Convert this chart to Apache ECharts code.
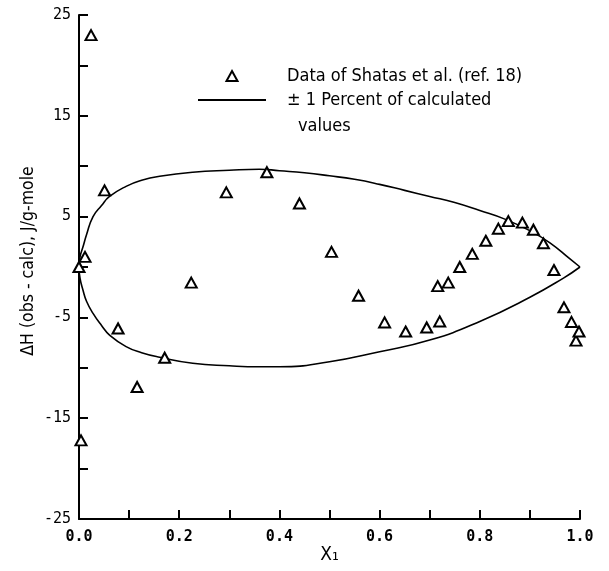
<!DOCTYPE html>
<html>
<head>
<meta charset="utf-8">
<script src="https://cdn.jsdelivr.net/npm/echarts@6/dist/echarts.min.js"></script>
<style>
html,body{margin:0;padding:0;background:#fff;}
#c{width:609px;height:571px;}
</style>
</head>
<body>
<div id="c"></div>
<script>
// Observed data (Shatas et al., ref. 18): mole fraction x1 and ΔH(obs - calc), J/g-mole
const obsX = [0.0, 0.004, 0.012, 0.024, 0.051, 0.078, 0.116, 0.171, 0.224, 0.294, 0.375, 0.44, 0.504, 0.558, 0.610, 0.652, 0.694, 0.716, 0.720, 0.737, 0.760, 0.785, 0.812, 0.837, 0.857, 0.885, 0.907, 0.927, 0.948, 0.968, 0.983, 0.992, 0.998, 1.003];
const obsY = [0, -17.2, 1.0, 23.0, 7.6, -6.1, -11.9, -9.0, -1.55, 7.4, 9.4, 6.3, 1.5, -2.85, -5.5, -6.4, -6.0, -1.9, -5.4, -1.55, 0.0, 1.3, 2.6, 3.8, 4.55, 4.4, 3.7, 2.35, -0.3, -4.0, -5.45, -7.3, -6.4, -3.7];

// +1 percent of calculated values (upper envelope)
const upperX = [0, 0.002, 0.008, 0.015, 0.028, 0.045, 0.061, 0.094, 0.125, 0.161, 0.227, 0.30, 0.36, 0.40, 0.45, 0.50, 0.55, 0.60, 0.65, 0.70, 0.75, 0.80, 0.85, 0.90, 0.94, 0.98, 1.0];
const upperY = [0, 1.0, 2.0, 3.2, 5.0, 6.1, 7.0, 8.0, 8.6, 9.0, 9.4, 9.6, 9.7, 9.55, 9.35, 9.05, 8.7, 8.2, 7.6, 7.0, 6.4, 5.6, 4.75, 3.6, 2.4, 0.8, 0];

// -1 percent of calculated values (lower envelope)
const lowerX = [0, 0.002, 0.008, 0.015, 0.028, 0.045, 0.061, 0.094, 0.125, 0.161, 0.227, 0.30, 0.36, 0.40, 0.50, 0.60, 0.70, 0.80, 0.90, 0.967, 1.0];
const lowerY = [0, -1.1, -2.3, -3.4, -4.6, -5.8, -6.75, -7.9, -8.5, -8.95, -9.55, -9.8, -9.9, -9.9, -9.4, -8.4, -7.25, -5.4, -3.0, -1.1, 0];

// Tick labels
const xTickLabels = ['0.0', '', '0.2', '', '0.4', '', '0.6', '', '0.8', '', '1.0'];
const yTickLabels = ['-25', '-15', '-5', '5', '15', '25'];

const scatterName = 'Data of Shatas et al. (ref. 18)';
const lineName = '± 1 Percent of calculated values';
const lineFirst = '± 1 Percent of calculated';
const lineSecond = 'values';

const textFont = "'Liberation Sans Narrow', 'DejaVu Sans Condensed', 'Liberation Sans', sans-serif";
const tickFont = "'DejaVu Sans Mono', 'Liberation Mono', monospace";

// legend triangle icon: small triangle centred in a 68 x 10 box
const legendTriangle = 'path://M0,0M68,10M34,0L39.5,10L28.5,10Z';

const zip = (xs, ys) => xs.map((x, i) => [x, ys[i]]);

const chart = echarts.init(document.getElementById('c'), null, {renderer: 'canvas'});
chart.setOption({
  backgroundColor: '#fff',
  animation: false,
  grid: {left: 79, right: 29, top: 15, bottom: 52, containLabel: false, outerBoundsMode: 'none'},
  legend: {
    orient: 'vertical',
    left: 197,
    top: 67,
    padding: 0,
    itemWidth: 68,
    itemHeight: 10,
    itemGap: 6,
    selectedMode: false,
    symbolKeepAspect: true,
    data: [
      {name: scatterName, icon: legendTriangle},
      {name: lineName, itemStyle: {opacity: 0}}
    ],
    formatter: n => n === lineName ? lineFirst : n,
    textStyle: {fontFamily: textFont, fontSize: 18, color: '#000', lineHeight: 18, padding: [0, 0, 0, 16]}
  },
  graphic: [{
    type: 'text', left: 298, top: 117,
    style: {text: lineSecond, font: "18px " + textFont, fill: '#000'}
  }],
  xAxis: {
    type: 'value', min: 0, max: 1, interval: 0.1,
    name: 'X₁', nameLocation: 'middle', nameGap: 27, nameMoveOverlap: false,
    nameTextStyle: {fontFamily: textFont, fontSize: 19, color: '#000'},
    axisLine: {show: true, onZero: false, lineStyle: {color: '#000', width: 2}},
    axisTick: {show: true, inside: true, length: 9, lineStyle: {color: '#000', width: 2}},
    splitLine: {show: false},
    axisLabel: {
      margin: 11, color: '#000', fontFamily: tickFont, fontWeight: 'bold', fontSize: 15,
      formatter: v => xTickLabels[Math.round(v * 10)] || ''
    }
  },
  yAxis: {
    type: 'value', min: -25, max: 25, interval: 5,
    name: 'ΔH (obs - calc), J/g-mole', nameLocation: 'middle', nameGap: 42, nameRotate: 90,
    nameMoveOverlap: false,
    nameTextStyle: {fontFamily: textFont, fontSize: 17.5, color: '#000', padding: [0, 0, 0, 12]},
    axisLine: {show: true, onZero: false, lineStyle: {color: '#000', width: 2}},
    axisTick: {show: true, inside: true, length: 9, lineStyle: {color: '#000', width: 2}},
    splitLine: {show: false},
    axisLabel: {
      margin: 8, color: '#000', fontFamily: tickFont, fontSize: 15,
      formatter: v => { const s = String(Math.round(v)); return yTickLabels.includes(s) ? s : ''; }
    }
  },
  series: [
    {
      name: lineName, type: 'line', data: zip(upperX, upperY),
      symbol: 'none', showSymbol: false, smooth: 0.5,
      itemStyle: {color: '#000'},
      lineStyle: {color: '#000', width: 1.6}, z: 2
    },
    {
      name: lineName, type: 'line', data: zip(lowerX, lowerY),
      symbol: 'none', showSymbol: false, smooth: 0.5,
      itemStyle: {color: '#000'},
      lineStyle: {color: '#000', width: 1.6}, z: 2
    },
    {
      name: scatterName, type: 'scatter', data: zip(obsX, obsY),
      symbol: 'triangle', symbolSize: [11, 10],
      itemStyle: {color: '#fff', borderColor: '#000', borderWidth: 2, opacity: 1},
      z: 3
    }
  ]
});
</script>
</body>
</html>
